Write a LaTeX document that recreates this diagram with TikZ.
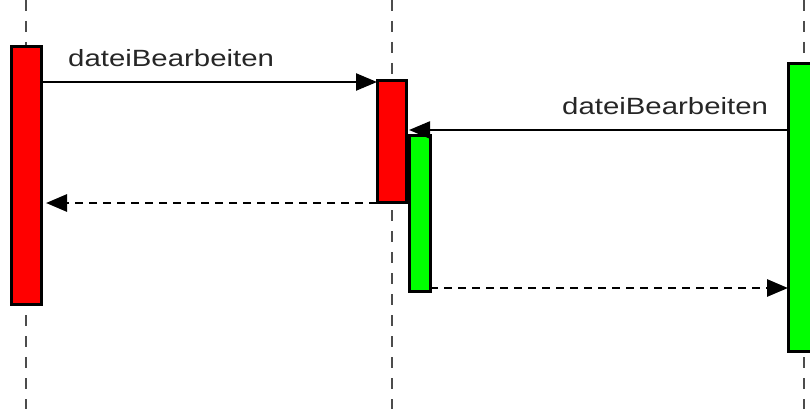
\documentclass[tikz,border=0pt]{standalone}
\usepackage{fontspec}
\newfontfamily\lblfont[FakeStretch=1.25]{Liberation Sans}
\usetikzlibrary{arrows.meta}
\begin{document}
\begin{tikzpicture}[x=1pt,y=-1pt,
  lifeline/.style={draw=black!70,line width=2.2pt,dash pattern=on 11pt off 10pt},
  actbox/.style={draw=black,line width=3pt},
  redbox/.style={actbox,fill=red},
  greenbox/.style={actbox,fill=green},
  msg/.style={draw=black,line width=2.3pt,-{Triangle[length=21pt,width=17pt]}},
  reply/.style={draw=black,line width=2.8pt,dash pattern=on 8pt off 6pt,-{Triangle[length=21pt,width=17pt]}},
  lbl/.style={font=\lblfont\fontsize{23.5}{26}\selectfont,text=black!85,inner sep=0pt,anchor=base west}]
\useasboundingbox (0,0) rectangle (810,409);
% lifelines
\coordinate (l1t) at (26,0); \coordinate (l1b) at (26,409);
\coordinate (l2t) at (392,0); \coordinate (l2b) at (392,409);
\coordinate (l3t) at (804,0); \coordinate (l3b) at (804,409);
\draw[lifeline] (l1t) -- (l1b);
\draw[lifeline] (l2t) -- (l2b);
\draw[lifeline] (l3t) -- (l3b);
% activation boxes
\draw[redbox] (11,47) rectangle (41,304);
\draw[redbox] (377,81) rectangle (406,202);
\draw[greenbox] (409,135) rectangle (430,291);
\draw[greenbox] (788,64) rectangle (816,351);
% named anchors for messages
\coordinate (a1s) at (41,82); \coordinate (a1e) at (377,82);
\coordinate (a2s) at (788,130); \coordinate (a2e) at (409,130);
\coordinate (a3s) at (377,203); \coordinate (a3e) at (46,203);
\coordinate (a4s) at (430,288); \coordinate (a4e) at (788,288);
\draw[msg] (a1s) -- (a1e);
\draw[msg] (a2s) -- (a2e);
\draw[reply] (a3s) -- (a3e);
\draw[reply] (a4s) -- (a4e);
\node[lbl] (t1) at (68,67) {dateiBearbeiten};
\node[lbl] (t2) at (562,114) {dateiBearbeiten};
\end{tikzpicture}
\end{document}
